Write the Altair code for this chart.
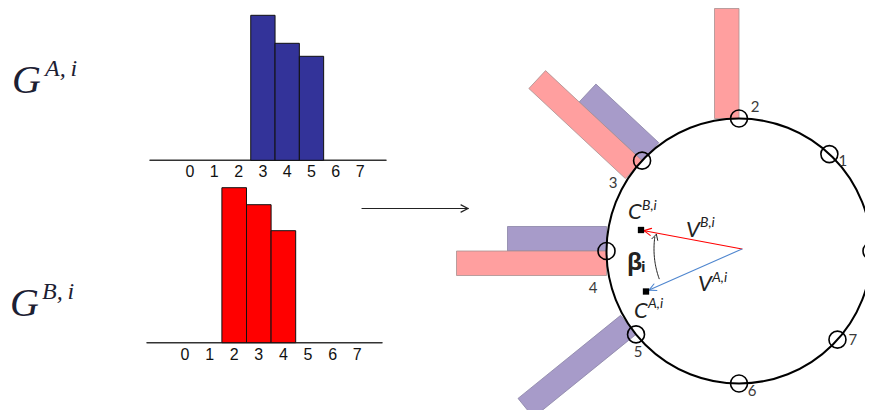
import math
import numpy as np
import pandas as pd
import altair as alt

# ---------------- data ----------------
bins = [0, 1, 2, 3, 4, 5, 6, 7]
tick_labels = ["0", "1", "2", "3", "4", "5", "6", "7"]

# histogram G^{A,i} (blue) and G^{B,i} (red): occupied bins and heights
hist_a_bins = [3, 4, 5]
hist_a_vals = [14.5, 11.7, 10.4]
hist_b_bins = [2, 3, 4]
hist_b_vals = [15.5, 13.8, 11.2]

# radial bars drawn around the circle (lengths as drawn)
polar_a_bins = [3, 4, 5]
polar_a_vals = [8.6, 9.9, 13.2]
polar_b_bins = [2, 3, 4]
polar_b_vals = [11.0, 13.2, 15.0]

# drawn direction of each bin marker on the circle (degrees)
bin_angles = [0, 47, 90, 137, 180, 219, 270, 318]
# markers whose number is visible in the picture
labelled_markers = [1, 2, 3, 4, 5, 6, 7]

# ---------------- layout (image pixel coordinates) ----------------
W, H = 857, 402
X0, Y0 = 8, 8
UNIT = 10.0          # px per value unit
BAR_W = 24.5         # radial bar width
hist_a = dict(x0=190, dx=24.3, base=160.3, axis=(150, 386), label_y=172)
hist_b = dict(x0=185, dx=24.6, base=342.7, axis=(147, 382), label_y=355)
CX, CY, R = 739.0, 251.0, 132.5
marker_label_offset = {1: (13.6, 6.9), 2: (16, -11.5), 3: (-29, 22.4),
                       4: (-13.5, 37), 5: (2, 17.6), 6: (13, 7.5), 7: (15.5, 0.3)}
V_ORIGIN = (742.0, 249.0)
C_B = (641.0, 230.0)
C_A = (646.0, 291.5)

xs = alt.Scale(domain=[X0, X0 + W], nice=False, zero=False)
ys = alt.Scale(domain=[Y0, Y0 + H], nice=False, zero=False, reverse=True)


def X(f="x"):
    return alt.X(f"{f}:Q", scale=xs, axis=None)


def Y(f="y"):
    return alt.Y(f"{f}:Q", scale=ys, axis=None)


# ---------------- histograms ----------------
hist_rows = []
for cfg, bs, vs, col in [(hist_a, hist_a_bins, hist_a_vals, "#333399"),
                         (hist_b, hist_b_bins, hist_b_vals, "#ff0000")]:
    for b, v in zip(bs, vs):
        hist_rows.append(dict(x=cfg["x0"] + cfg["dx"] * (b - 0.5),
                              x2=cfg["x0"] + cfg["dx"] * (b + 0.5),
                              y=cfg["base"] - v * UNIT, y2=cfg["base"], c=col))
hist_df = pd.DataFrame(hist_rows)
hist_layer = alt.Chart(hist_df).mark_rect(stroke="#111111", strokeWidth=1).encode(
    x=X(), x2="x2:Q", y=Y(), y2="y2:Q", fill=alt.Fill("c:N", scale=None))

tick_rows = []
for cfg in (hist_a, hist_b):
    for b, t in zip(bins, tick_labels):
        tick_rows.append(dict(x=cfg["x0"] + cfg["dx"] * b, y=cfg["label_y"], t=t))
tick_layer = alt.Chart(pd.DataFrame(tick_rows)).mark_text(
    font="Liberation Sans", fontSize=16, color="#111111", align="center", baseline="middle"
).encode(x=X(), y=Y(), text="t:N")

# ---------------- segments (axes, arrows, vectors) ----------------
seg_rows = []


def seg(x1, y1, x2, y2, c="#222222", w=1.2):
    seg_rows.append(dict(x=x1, y=y1, x2=x2, y2=y2, c=c, w=w))


def chevron(x1, y1, x2, y2, c, w, length=7.0, spread=3.6):
    L = math.hypot(x2 - x1, y2 - y1)
    ux, uy = (x2 - x1) / L, (y2 - y1) / L
    bx, by = x2 - ux * length, y2 - uy * length
    seg(x2, y2, bx - uy * spread, by + ux * spread, c, w)
    seg(x2, y2, bx + uy * spread, by - ux * spread, c, w)


for cfg in (hist_a, hist_b):
    seg(cfg["axis"][0], cfg["base"], cfg["axis"][1], cfg["base"], "#333333", 1.5)

seg(362, 208.5, 468, 208.5, "#222222", 1.2)
chevron(362, 208.5, 468, 208.5, "#222222", 1.2)

seg(V_ORIGIN[0], V_ORIGIN[1], C_B[0] + 2, C_B[1] + 0.5, "#ff0000", 1.1)
chevron(V_ORIGIN[0], V_ORIGIN[1], C_B[0] + 3, C_B[1] + 0.6, "#ff0000", 1.1)
seg(V_ORIGIN[0], V_ORIGIN[1], C_A[0] + 2, C_A[1] - 1, "#4f86cf", 1.1)
chevron(V_ORIGIN[0], V_ORIGIN[1], C_A[0] + 3, C_A[1] - 1.4, "#4f86cf", 1.1)

# beta arc (geometric curve)
arc_r = 88.0
arc_t = np.radians(np.linspace(200, 172, 30))
arc_df = pd.DataFrame(dict(x=V_ORIGIN[0] + arc_r * np.cos(arc_t),
                           y=V_ORIGIN[1] - arc_r * np.sin(arc_t),
                           i=np.arange(30)))
ax_end, ay_end = arc_df.x.iloc[-1], arc_df.y.iloc[-1]
chevron(arc_df.x.iloc[-4], arc_df.y.iloc[-4], ax_end + 1.5, ay_end - 2.5, "#222222", 1.0,
        length=5.5, spread=3.0)
arc_layer = alt.Chart(arc_df).mark_line(color="#222222", strokeWidth=1.0).encode(
    x=X(), y=Y(), order="i:Q")

seg_layer = alt.Chart(pd.DataFrame(seg_rows)).mark_rule(strokeCap="round").encode(
    x=X(), y=Y(), x2="x2:Q", y2="y2:Q",
    color=alt.Color("c:N", scale=None), strokeWidth=alt.StrokeWidth("w:Q", scale=None))

# ---------------- radial bars ----------------
def marker_xy(k):
    th = math.radians(bin_angles[k])
    return CX + R * math.cos(th), CY - R * math.sin(th)


poly_rows = []
for name, bs, vs, side in [("A", polar_a_bins, polar_a_vals, -1),
                           ("B", polar_b_bins, polar_b_vals, 1)]:
    for b, v in zip(bs, vs):
        th = math.radians(bin_angles[b])
        ux, uy = math.cos(th), -math.sin(th)
        px, py = marker_xy(b)
        if side > 0:
            nx, ny = uy, -ux
        else:
            nx, ny = -uy, ux
        L = v * UNIT
        pts = [(px, py), (px + nx * BAR_W, py + ny * BAR_W),
               (px + nx * BAR_W + ux * L, py + ny * BAR_W + uy * L),
               (px + ux * L, py + uy * L), (px, py)]
        for i, (x, y) in enumerate(pts):
            poly_rows.append(dict(id=f"{name}{b}", set=name, i=i, x=x, y=y))
poly_df = pd.DataFrame(poly_rows)
poly_a = alt.Chart(poly_df[poly_df.set == "A"]).mark_line(
    fill="#a79bc9", stroke="#8a84a6", strokeWidth=0.8, strokeJoin="miter").encode(
    x=X(), y=Y(), order="i:Q", detail="id:N")
poly_b = alt.Chart(poly_df[poly_df.set == "B"]).mark_line(
    fill="#ff9f9f", stroke="#a89090", strokeWidth=0.8, strokeJoin="miter").encode(
    x=X(), y=Y(), order="i:Q", detail="id:N")

# ---------------- circle and markers ----------------
circle_layer = alt.Chart(pd.DataFrame([dict(x=CX, y=CY)])).mark_point(
    shape="circle", size=(2 * R) ** 2, filled=False, stroke="black", strokeWidth=2, opacity=1
).encode(x=X(), y=Y())

mk = pd.DataFrame([dict(x=marker_xy(k)[0], y=marker_xy(k)[1], k=k) for k in bins])
mk_lab = pd.DataFrame([dict(lx=marker_xy(k)[0] + marker_label_offset[k][0],
                            ly=marker_xy(k)[1] + marker_label_offset[k][1],
                            t=tick_labels[k]) for k in labelled_markers])
marker_layer = alt.Chart(mk).mark_point(
    shape="circle", size=17 ** 2, filled=False, stroke="black", strokeWidth=1.6, opacity=1
).encode(x=X(), y=Y())
marker_text = alt.Chart(mk_lab).mark_text(
    font="Lato", fontSize=15, color="#3a3a3a", align="center", baseline="middle"
).encode(x=X("lx"), y=Y("ly"), text="t:N")

sq_layer = alt.Chart(pd.DataFrame([dict(x=C_B[0], y=C_B[1]), dict(x=C_A[0], y=C_A[1])])).mark_square(
    size=40, color="black", opacity=1).encode(x=X(), y=Y())

# ---------------- labels ----------------
g_df = pd.DataFrame([
    dict(x=12, y=93, t="G", s=40), dict(x=45, y=76, t="A,\u2009i", s=24),
    dict(x=10, y=316, t="G", s=40), dict(x=42, y=299, t="B,\u2009i", s=24),
])
g_layer = alt.Chart(g_df).mark_text(
    font="Liberation Serif", fontStyle="italic", color="#1c2033", align="left", baseline="alphabetic"
).encode(x=X(), y=Y(), text="t:N", size=alt.Size("s:Q", scale=None))

cv_df = pd.DataFrame([
    dict(x=628, y=219, t="C", s=22), dict(x=642, y=210, t="B,i", s=14),
    dict(x=686, y=237, t="V", s=22), dict(x=700, y=227, t="B,i", s=14),
    dict(x=698, y=291, t="V", s=22), dict(x=712, y=282, t="A,i", s=14),
    dict(x=634, y=318, t="C", s=22), dict(x=648, y=308, t="A,i", s=14),
])
cv_layer = alt.Chart(cv_df).mark_text(
    font="Lato", fontStyle="italic", color="#222222", align="left", baseline="alphabetic"
).encode(x=X(), y=Y(), text="t:N", size=alt.Size("s:Q", scale=None))

beta_df = pd.DataFrame([dict(x=627, y=270, t="β", s=23), dict(x=641, y=272, t="i", s=15)])
beta_layer = alt.Chart(beta_df).mark_text(
    font="Open Sans", fontWeight="bold", color="#222222", align="left", baseline="alphabetic"
).encode(x=X(), y=Y(), text="t:N", size=alt.Size("s:Q", scale=None))

chart = alt.layer(
    poly_a, poly_b, circle_layer, marker_layer, marker_text,
    arc_layer, seg_layer, sq_layer, cv_layer, beta_layer,
    hist_layer, tick_layer, g_layer,
).properties(
    width=W, height=H, autosize=alt.AutoSizeParams(type="none"), padding=0
).configure_view(stroke=None)

chart.save("out.html", embed_options={"renderer": "svg", "actions": False})
